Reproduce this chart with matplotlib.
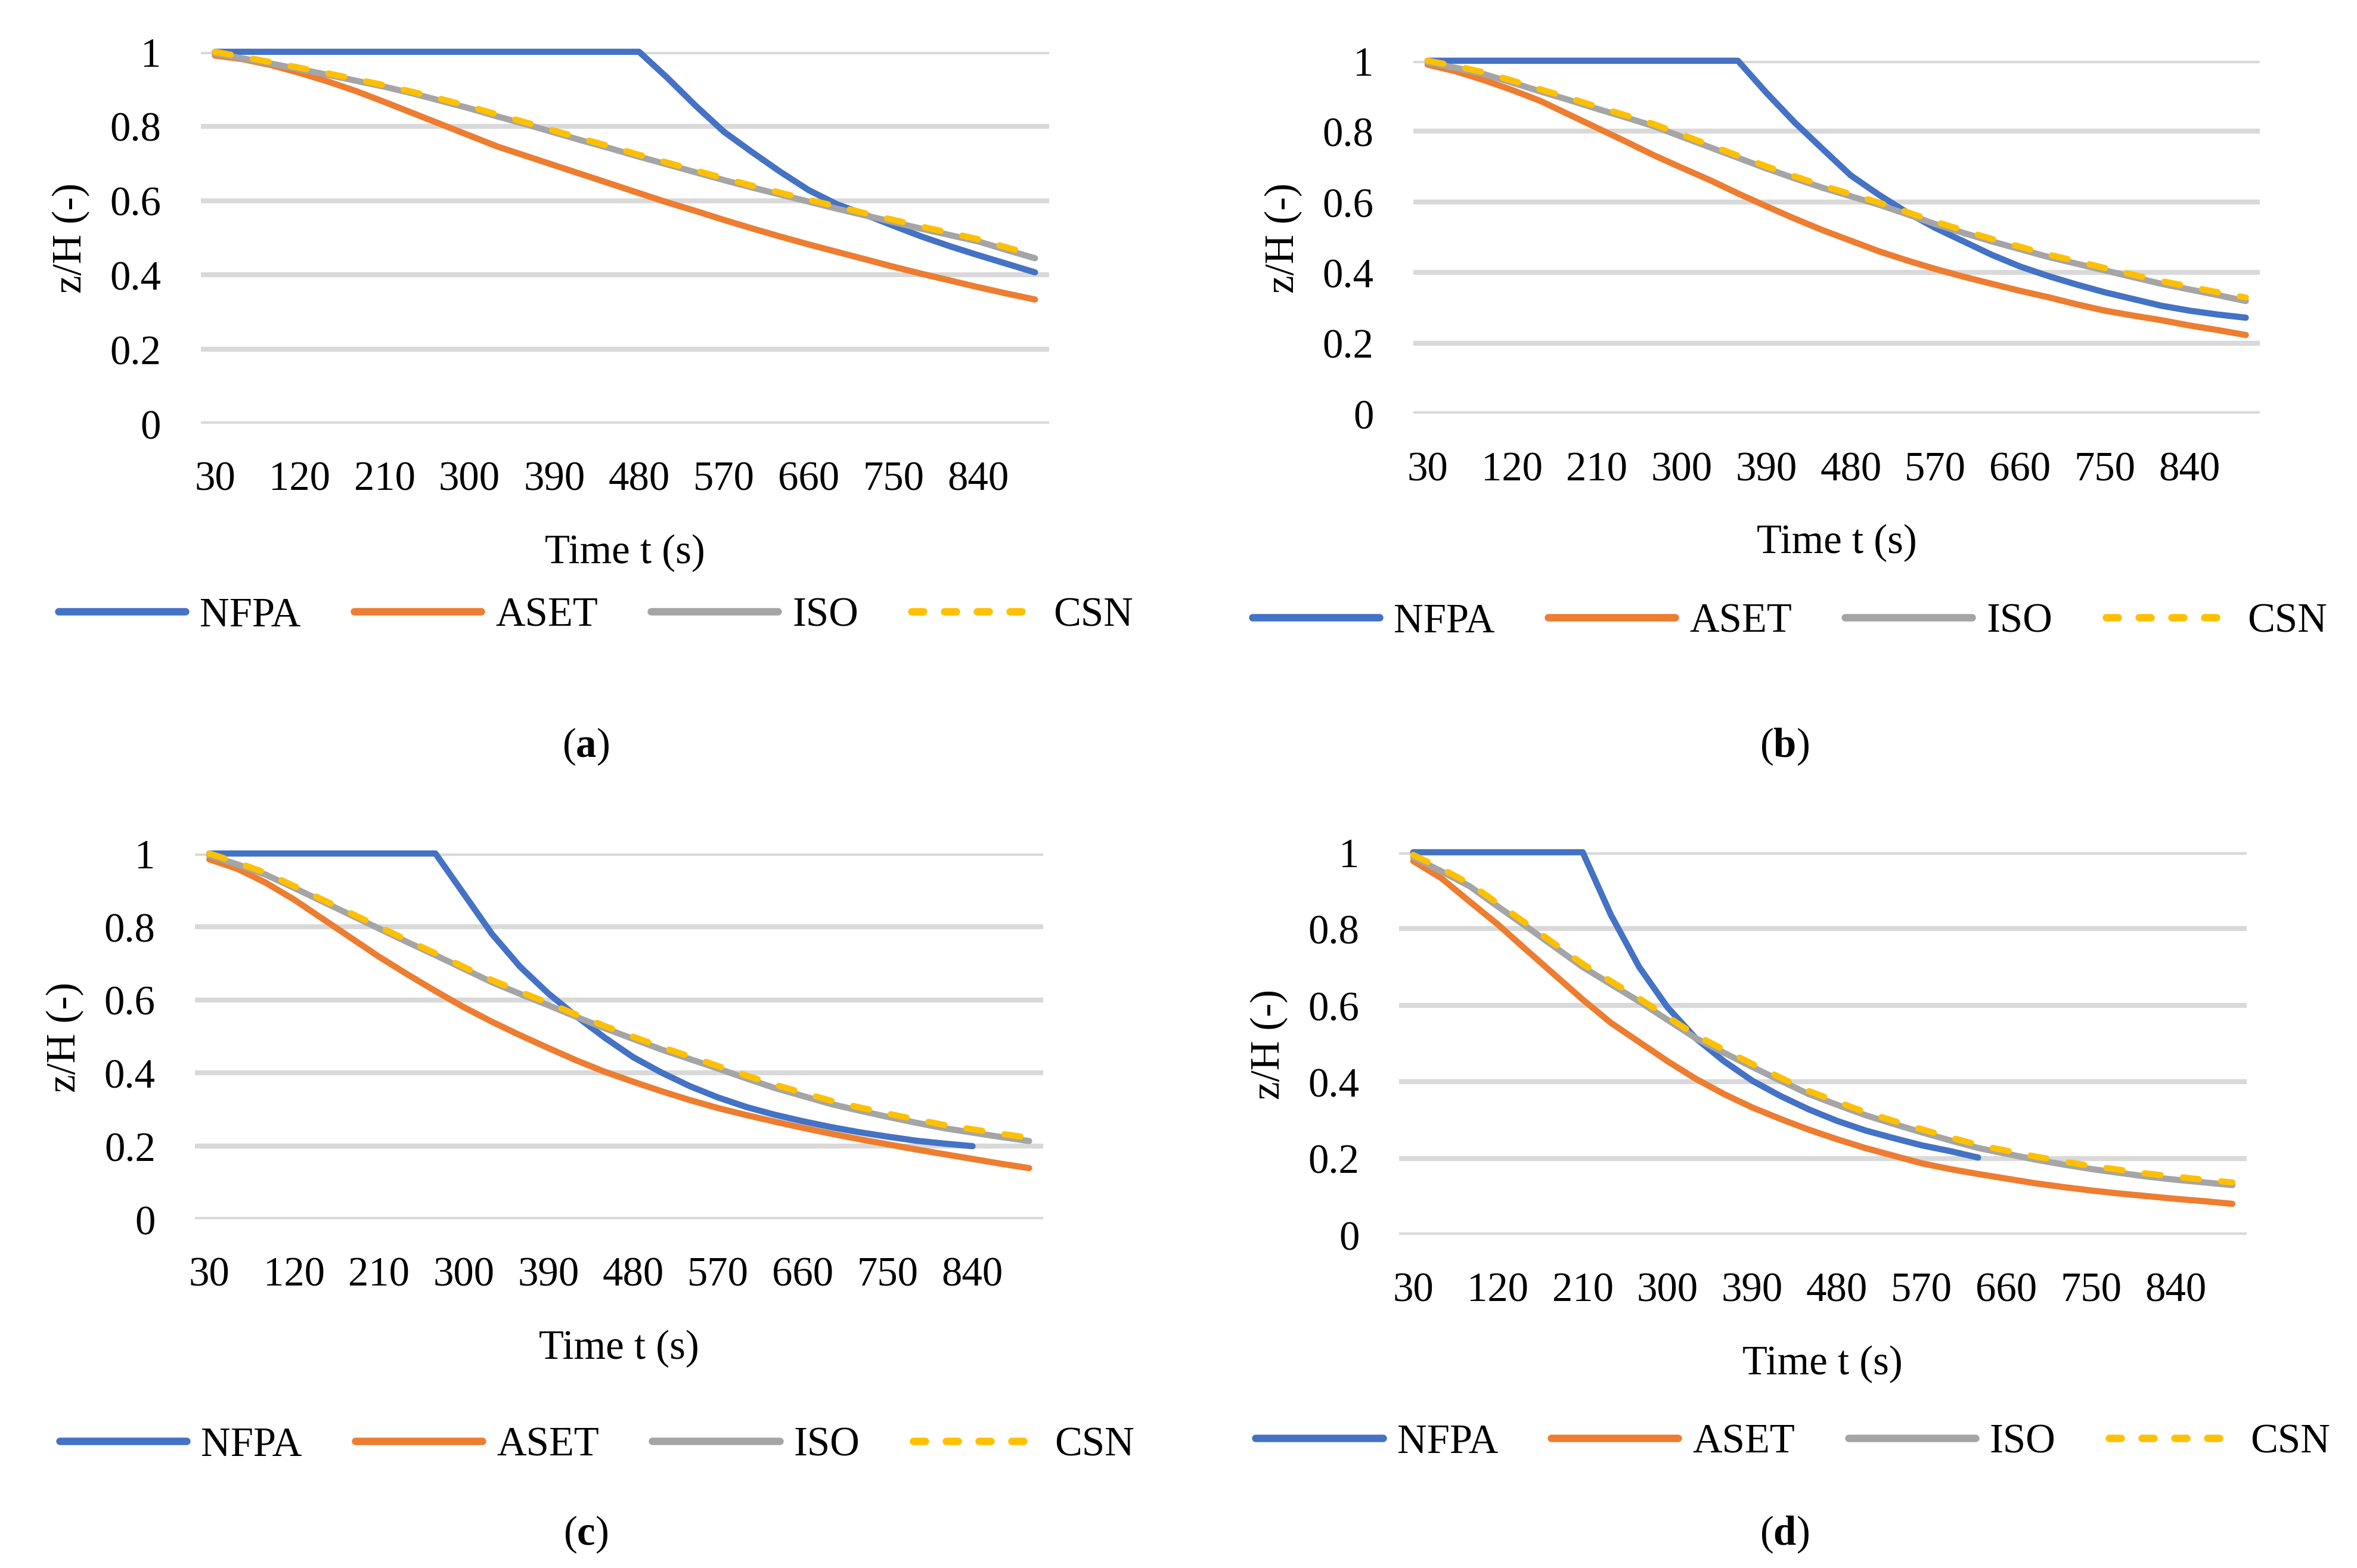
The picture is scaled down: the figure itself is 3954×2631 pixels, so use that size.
import matplotlib
matplotlib.use("Agg")
import matplotlib.pyplot as plt
from matplotlib.lines import Line2D

plt.rcParams['font.family'] = ['Liberation Serif', 'DejaVu Serif']
plt.rcParams['mathtext.fontset'] = 'custom'
plt.rcParams['mathtext.rm'] = 'Liberation Serif'
plt.rcParams['mathtext.bf'] = 'Liberation Serif:bold'

# time categories (s)
times = [30, 60, 90, 120, 150, 180, 210, 240, 270, 300, 330, 360, 390, 420, 450,
         480, 510, 540, 570, 600, 630, 660, 690, 720, 750, 780, 810, 840, 870, 900]
tick_labels = ["30", "120", "210", "300", "390", "480", "570", "660", "750", "840"]

# (a)
nfpa_a = [1.0, 1.0, 1.0, 1.0, 1.0, 1.0, 1.0, 1.0, 1.0, 1.0, 1.0, 1.0, 1.0, 1.0, 1.0,
          1.0, 0.93, 0.855, 0.785, 0.73, 0.677, 0.628, 0.59, 0.562, 0.532, 0.503,
          0.477, 0.453, 0.43, 0.407]
aset_a = [0.99, 0.98, 0.964, 0.943, 0.92, 0.894, 0.865, 0.835, 0.805, 0.775, 0.745,
          0.72, 0.695, 0.67, 0.645, 0.62, 0.595, 0.572, 0.548, 0.525, 0.503, 0.482,
          0.462, 0.442, 0.422, 0.403, 0.385, 0.367, 0.35, 0.334]
iso_a = [0.995, 0.982, 0.968, 0.953, 0.938, 0.922, 0.906, 0.888, 0.868, 0.848, 0.826,
         0.805, 0.783, 0.761, 0.74, 0.718, 0.697, 0.676, 0.655, 0.635, 0.616, 0.597,
         0.578, 0.56, 0.542, 0.524, 0.507, 0.49, 0.467, 0.445]
csn_a = [1.0, 0.986, 0.972, 0.957, 0.942, 0.926, 0.91, 0.892, 0.873, 0.853, 0.831,
         0.81, 0.788, 0.766, 0.745, 0.723, 0.702, 0.681, 0.66, 0.64, 0.621, 0.602,
         0.584, 0.566, 0.548, 0.53, 0.513, 0.496, 0.474, 0.453]

# (b)
nfpa_b = [1.0, 1.0, 1.0, 1.0, 1.0, 1.0, 1.0, 1.0, 1.0, 1.0, 1.0, 1.0, 0.91, 0.826,
          0.75, 0.675, 0.62, 0.57, 0.526, 0.488, 0.45, 0.417, 0.39, 0.366, 0.344,
          0.325, 0.306, 0.292, 0.281, 0.272]
aset_b = [0.989, 0.97, 0.945, 0.917, 0.886, 0.848, 0.81, 0.772, 0.733, 0.697, 0.662,
          0.624, 0.588, 0.553, 0.52, 0.49, 0.46, 0.434, 0.41, 0.388, 0.368, 0.348,
          0.33, 0.31, 0.292, 0.278, 0.265, 0.25, 0.237, 0.223]
iso_b = [0.995, 0.98, 0.962, 0.938, 0.913, 0.889, 0.864, 0.84, 0.815, 0.785, 0.755,
         0.725, 0.695, 0.667, 0.64, 0.616, 0.592, 0.565, 0.537, 0.512, 0.488, 0.466,
         0.444, 0.425, 0.406, 0.387, 0.368, 0.352, 0.336, 0.319]
csn_b = [1.0, 0.985, 0.967, 0.944, 0.919, 0.895, 0.87, 0.846, 0.821, 0.791, 0.761,
         0.731, 0.701, 0.673, 0.646, 0.622, 0.598, 0.571, 0.544, 0.519, 0.495, 0.473,
         0.451, 0.432, 0.413, 0.394, 0.376, 0.36, 0.344, 0.329]

# (c)
nfpa_c = [1.0, 1.0, 1.0, 1.0, 1.0, 1.0, 1.0, 1.0, 1.0, 0.89, 0.78, 0.69, 0.617,
          0.554, 0.496, 0.443, 0.401, 0.364, 0.333, 0.307, 0.286, 0.268, 0.252,
          0.238, 0.226, 0.215, 0.207, 0.2]
aset_c = [0.984, 0.958, 0.92, 0.874, 0.822, 0.77, 0.718, 0.67, 0.624, 0.58, 0.54,
          0.503, 0.468, 0.434, 0.403, 0.376, 0.35, 0.326, 0.304, 0.285, 0.267, 0.25,
          0.234, 0.219, 0.205, 0.191, 0.178, 0.165, 0.152, 0.14]
iso_c = [0.995, 0.97, 0.942, 0.906, 0.869, 0.832, 0.795, 0.758, 0.722, 0.685, 0.648,
         0.616, 0.585, 0.553, 0.522, 0.493, 0.464, 0.438, 0.412, 0.385, 0.359, 0.337,
         0.315, 0.297, 0.28, 0.264, 0.249, 0.237, 0.225, 0.214]
csn_c = [1.0, 0.975, 0.947, 0.911, 0.874, 0.837, 0.8, 0.763, 0.727, 0.69, 0.654,
         0.622, 0.591, 0.559, 0.528, 0.499, 0.471, 0.445, 0.419, 0.393, 0.368, 0.346,
         0.324, 0.306, 0.289, 0.273, 0.258, 0.246, 0.234, 0.223]

# (d)
nfpa_d = [1.0, 1.0, 1.0, 1.0, 1.0, 1.0, 1.0, 0.836, 0.70, 0.595, 0.514, 0.454, 0.403,
          0.363, 0.328, 0.298, 0.273, 0.253, 0.234, 0.219, 0.202]
aset_d = [0.977, 0.932, 0.871, 0.811, 0.745, 0.68, 0.615, 0.554, 0.504, 0.454, 0.408,
          0.368, 0.333, 0.303, 0.275, 0.25, 0.227, 0.207, 0.187, 0.172, 0.159, 0.147,
          0.135, 0.125, 0.116, 0.108, 0.101, 0.094, 0.088, 0.081]
iso_d = [0.987, 0.95, 0.911, 0.858, 0.806, 0.753, 0.70, 0.655, 0.61, 0.562, 0.514,
         0.476, 0.439, 0.403, 0.368, 0.34, 0.313, 0.29, 0.268, 0.247, 0.227, 0.212,
         0.197, 0.184, 0.172, 0.162, 0.152, 0.144, 0.137, 0.13]
csn_d = [0.993, 0.957, 0.918, 0.866, 0.814, 0.761, 0.708, 0.663, 0.618, 0.57, 0.522,
         0.484, 0.447, 0.411, 0.376, 0.348, 0.321, 0.298, 0.276, 0.255, 0.235, 0.22,
         0.205, 0.192, 0.18, 0.17, 0.16, 0.152, 0.144, 0.137]

series_names = ["NFPA", "ASET", "ISO", "CSN"]
colors = ["#4472C4", "#ED7D31", "#A5A5A5", "#FFC000"]
LW = 2.5
FS = 16.5


def draw_panel(ax, nfpa, aset, iso, csn):
    for i, (vals, c) in enumerate(zip([nfpa, aset, iso, csn], colors)):
        idx = list(range(len(vals)))
        if i == 3:
            ax.plot(idx, vals, color=c, lw=LW, ls=(0, (2.6, 3.6)),
                    dash_capstyle='round', clip_on=False, zorder=3 + i)
        else:
            ax.plot(idx, vals, color=c, lw=LW, solid_capstyle='round',
                    solid_joinstyle='round', clip_on=False, zorder=3 + i)
    ax.set_xlim(-0.5, len(times) - 0.5)
    ax.set_ylim(0, 1)
    ax.set_yticks([0, 0.2, 0.4, 0.6, 0.8, 1.0])
    ax.set_yticklabels(["0", "0.2", "0.4", "0.6", "0.8", "1"])
    ax.set_xticks(list(range(0, len(times), 3)))
    ax.set_xticklabels(tick_labels)
    ax.tick_params(axis='both', length=0, labelsize=FS)
    ax.tick_params(axis='y', pad=16)
    ax.tick_params(axis='x', pad=15)
    for s in ax.spines.values():
        s.set_visible(False)
    ax.grid(axis='y', color='#D9D9D9', lw=2.0, zorder=0)
    ax.set_axisbelow(True)
    ax.set_xlabel("Time t (s)", fontsize=FS, labelpad=14)
    ax.set_ylabel("z/H (-)", fontsize=FS, labelpad=8)


fig = plt.figure(figsize=(13.18, 8.7733), dpi=300)

panels = [
    ([0.0852, 0.7295, 0.3599, 0.2371], (nfpa_a, aset_a, iso_a, csn_a), (0.2527, 0.6071), (0.2486, 0.5239), "a"),
    ([0.5997, 0.7359, 0.3591, 0.2250], (nfpa_b, aset_b, iso_b, csn_b), (0.7593, 0.6033), (0.757, 0.5239), "b"),
    ([0.0828, 0.2223, 0.3598, 0.2332], (nfpa_c, aset_c, iso_c, csn_c), (0.2533, 0.0783), (0.2486, 0.0217), "c"),
    ([0.5936, 0.2124, 0.3595, 0.2439], (nfpa_d, aset_d, iso_d, csn_d), (0.7607, 0.0802), (0.757, 0.0217), "d"),
]

handles = [
    Line2D([], [], color=colors[0], lw=LW * 1.2, solid_capstyle='round'),
    Line2D([], [], color=colors[1], lw=LW * 1.2, solid_capstyle='round'),
    Line2D([], [], color=colors[2], lw=LW * 1.2, solid_capstyle='round'),
    Line2D([], [], color=colors[3], lw=LW * 1.2, ls=(0, (1.6, 2.8)), dash_capstyle='round'),
]

for rect, data, leg_pos, lab_pos, letter in panels:
    ax = fig.add_axes(rect)
    draw_panel(ax, *data)
    fig.legend(handles, series_names, loc='center', bbox_to_anchor=leg_pos, ncol=4,
               frameon=False, fontsize=FS, handlelength=3.1, handletextpad=0.35,
               columnspacing=1.3)
    fig.text(lab_pos[0], lab_pos[1], "($\\mathbf{" + letter + "}$)", fontsize=FS,
             ha='center', va='center')

fig.savefig("out.png", dpi=300)
